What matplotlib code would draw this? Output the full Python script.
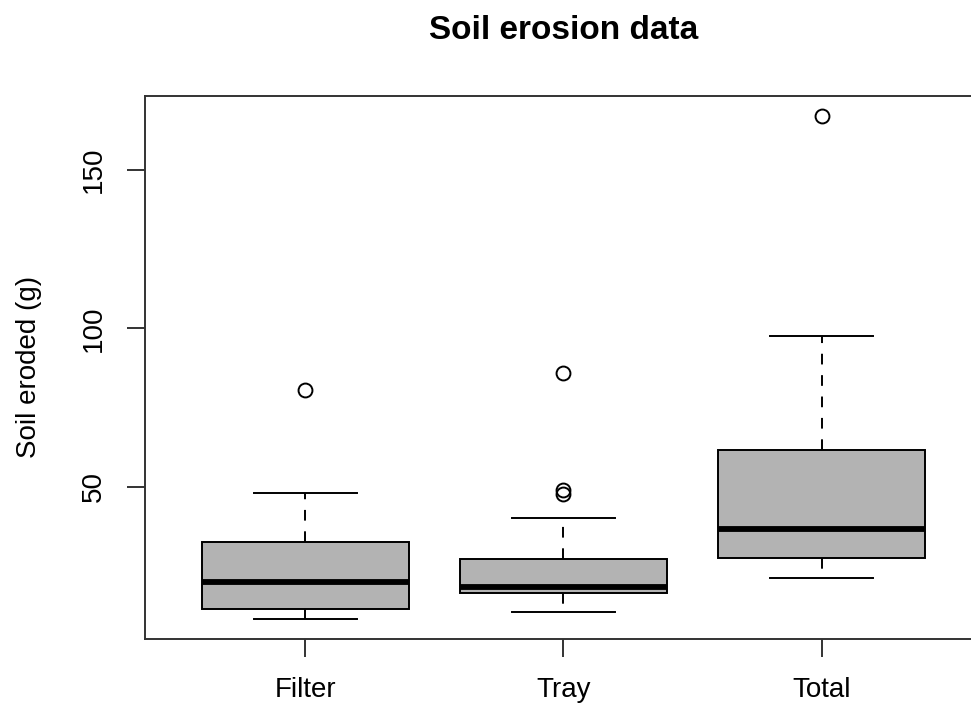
import matplotlib
matplotlib.use('Agg')
import matplotlib.pyplot as plt

plt.rcParams['font.family'] = ['Liberation Sans', 'DejaVu Sans']

# Box statistics
groups = ['Filter', 'Tray', 'Total']
medians = [19.8, 18.2, 36.6]
q1s = [11.3, 16.3, 27.5]
q3s = [32.5, 27.1, 61.6]
whisker_lo = [8.2, 10.3, 21.1]
whisker_hi = [48.0, 40.0, 97.6]
outliers = [[80.5], [47.7, 49.0, 85.8], [167.2]]

y_ticks = [50, 100, 150]

BOX_GREY = '#b3b3b3'
LW = 1.4


def build_stats():
    stats = []
    for i, name in enumerate(groups):
        stats.append(dict(label=name, med=medians[i], q1=q1s[i], q3=q3s[i],
                          whislo=whisker_lo[i], whishi=whisker_hi[i],
                          fliers=outliers[i]))
    return stats


fig = plt.figure(figsize=(9.71, 7.05), dpi=100)
ax = fig.add_axes([0.1498, 0.0935, 0.861, 0.771])

ax.bxp(build_stats(), positions=[1, 2, 3], widths=0.8, capwidths=0.4,
       patch_artist=True,
       boxprops=dict(facecolor=BOX_GREY, edgecolor='black', linewidth=LW),
       medianprops=dict(color='black', linewidth=4.2, solid_capstyle='butt'),
       whiskerprops=dict(color='black', linewidth=LW, linestyle=(0, (5.5, 5.5))),
       capprops=dict(color='black', linewidth=LW),
       flierprops=dict(marker='o', markerfacecolor='none',
                       markeredgecolor='black', markersize=10,
                       markeredgewidth=1.4))

# R style axis limits (4% padding)
all_vals = whisker_lo + whisker_hi + [v for grp in outliers for v in grp]
lo, hi = min(all_vals), max(all_vals)
pad = 0.04 * (hi - lo)
ax.set_ylim(lo - pad, hi + pad)
ax.set_xlim(0.38, 3.62)

ax.set_yticks(y_ticks)
ax.set_yticklabels([str(t) for t in y_ticks], rotation=90, va='center')
ax.set_xticks([1, 2, 3])
ax.set_xticklabels(groups)

ax.tick_params(direction='out', length=13, width=LW, labelsize=20,
               color='#333333')
ax.tick_params(axis='y', pad=15)
ax.tick_params(axis='x', pad=14)
for sp in ax.spines.values():
    sp.set_linewidth(LW)
    sp.set_color('#333333')

ax.set_ylabel('Soil eroded (g)', fontsize=20)
ax.yaxis.set_label_coords(-0.124, 0.5)

ax.text(0.5, 1 + 65.5 / 543.6, 'Soil erosion data', transform=ax.transAxes,
        ha='center', va='center', fontsize=24, fontweight='bold')

plt.savefig('out.png', dpi=100)
